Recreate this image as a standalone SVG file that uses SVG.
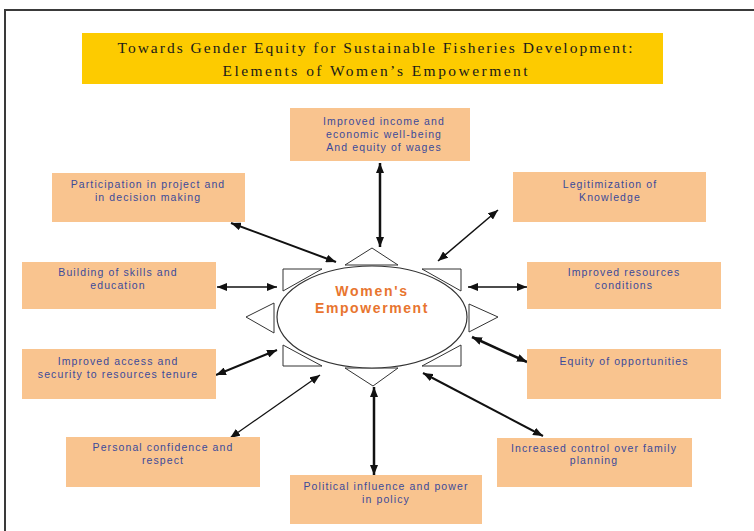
<svg xmlns="http://www.w3.org/2000/svg" width="754" height="531" viewBox="0 0 754 531">
  <style>
    .box { fill: #F9C48F; }
    .lbl { font-family: "Liberation Sans", Arial, sans-serif; font-size: 10.5px; letter-spacing: 1.1px; fill: #3B4A9A; text-anchor: middle; }
    .ttl { font-family: "Liberation Serif", "Times New Roman", serif; font-size: 15.5px; fill: #1a1a1a; text-anchor: middle; }
    .core { font-family: "Liberation Sans", Arial, sans-serif; font-size: 14px; font-weight: bold; fill: #E8752F; text-anchor: middle; }
    .ray { fill: #ffffff; stroke: #333333; stroke-width: 1; stroke-linejoin: miter; }
    .link { fill: none; stroke: #111111; marker-start: url(#head); marker-end: url(#head); }
  </style>
  <defs>
    <marker id="head" viewBox="0 0 10 8" refX="10" refY="4" markerWidth="10" markerHeight="8" markerUnits="userSpaceOnUse" orient="auto-start-reverse">
      <path d="M0,0 L10,4 L0,8 Z" fill="#111111"/>
    </marker>
  </defs>

  <rect width="754" height="531" fill="#ffffff"/>
  <!-- page frame -->
  <rect x="5" y="10" width="760" height="530" fill="none" stroke="#3a3a3a" stroke-width="2"/>

  <!-- title banner -->
  <g id="title">
    <rect x="82" y="33" width="581" height="51" fill="#FDCB00"/>
    <text class="ttl" x="375" y="53" textLength="515" lengthAdjust="spacing">Towards Gender Equity for Sustainable Fisheries Development:</text>
    <text class="ttl" x="375" y="76" textLength="305" lengthAdjust="spacing">Elements of Women’s Empowerment</text>
  </g>

  <!-- connectors -->
  <g id="connectors">
    <line class="link" x1="380" y1="163" x2="380" y2="247" stroke-width="2.5"/>
    <line class="link" x1="231" y1="223" x2="336" y2="262" stroke-width="2"/>
    <line class="link" x1="217" y1="287" x2="277" y2="287" stroke-width="1.3"/>
    <line class="link" x1="216" y1="375" x2="277" y2="350" stroke-width="2"/>
    <line class="link" x1="230" y1="438" x2="320" y2="375" stroke-width="1.3"/>
    <line class="link" x1="374" y1="387" x2="374" y2="475" stroke-width="2.5"/>
    <line class="link" x1="423" y1="373" x2="543" y2="436" stroke-width="2"/>
    <line class="link" x1="472" y1="337" x2="527" y2="362" stroke-width="2.5"/>
    <line class="link" x1="468" y1="287" x2="527" y2="287" stroke-width="1.3"/>
    <line class="link" x1="438" y1="261" x2="498" y2="210" stroke-width="1.5"/>
  </g>

  <!-- central sun: rays and ellipse -->
  <g id="empowerment">
    <polygon class="ray" points="372,248 345,265 398,265"/>
    <polygon class="ray" points="345,368 398,368 373,386"/>
    <polygon class="ray" points="246,317 274,303 274,333"/>
    <polygon class="ray" points="498,317 469,304 469,332"/>
    <polygon class="ray" points="283,269 322,269 283,291"/>
    <polygon class="ray" points="461,269 422,269 461,291"/>
    <polygon class="ray" points="283,345 283,366 322,366"/>
    <polygon class="ray" points="461,345 461,366 422,366"/>
    <ellipse cx="372" cy="317" rx="95" ry="51" fill="#ffffff" stroke="#333333" stroke-width="1.2"/>
    <text class="core" x="372" y="296" letter-spacing="1.7">Women's</text>
    <text class="core" x="372" y="313" letter-spacing="1.6">Empowerment</text>
  </g>

  <g id="income">
    <rect class="box" x="290" y="108" width="180" height="53"/>
    <text class="lbl" x="384" y="125">Improved income and</text>
    <text class="lbl" x="384" y="138">economic well-being</text>
    <text class="lbl" x="384" y="151">And equity of wages</text>
  </g>

  <g id="participation">
    <rect class="box" x="52" y="173" width="193" height="49"/>
    <text class="lbl" x="148" y="188">Participation in project and</text>
    <text class="lbl" x="148" y="201">in decision making</text>
  </g>

  <g id="skills">
    <rect class="box" x="22" y="262" width="194" height="47"/>
    <text class="lbl" x="118" y="276">Building of skills and</text>
    <text class="lbl" x="118" y="289">education</text>
  </g>

  <g id="access">
    <rect class="box" x="22" y="349" width="194" height="50"/>
    <text class="lbl" x="118" y="365">Improved access and</text>
    <text class="lbl" x="118" y="378">security to resources tenure</text>
  </g>

  <g id="confidence">
    <rect class="box" x="66" y="437" width="194" height="50"/>
    <text class="lbl" x="163" y="451">Personal confidence and</text>
    <text class="lbl" x="163" y="464">respect</text>
  </g>

  <g id="political">
    <rect class="box" x="290" y="475" width="192" height="49"/>
    <text class="lbl" x="386" y="490">Political influence and power</text>
    <text class="lbl" x="386" y="503">in policy</text>
  </g>

  <g id="family">
    <rect class="box" x="497" y="438" width="195" height="49"/>
    <text class="lbl" x="594" y="452">Increased control over family</text>
    <text class="lbl" x="594" y="464">planning</text>
  </g>

  <g id="opportunities">
    <rect class="box" x="527" y="349" width="194" height="50"/>
    <text class="lbl" x="624" y="365">Equity of opportunities</text>
  </g>

  <g id="resources">
    <rect class="box" x="527" y="262" width="194" height="47"/>
    <text class="lbl" x="624" y="276">Improved resources</text>
    <text class="lbl" x="624" y="289">conditions</text>
  </g>

  <g id="knowledge">
    <rect class="box" x="513" y="172" width="193" height="50"/>
    <text class="lbl" x="610" y="188">Legitimization of</text>
    <text class="lbl" x="610" y="201">Knowledge</text>
  </g>
</svg>
